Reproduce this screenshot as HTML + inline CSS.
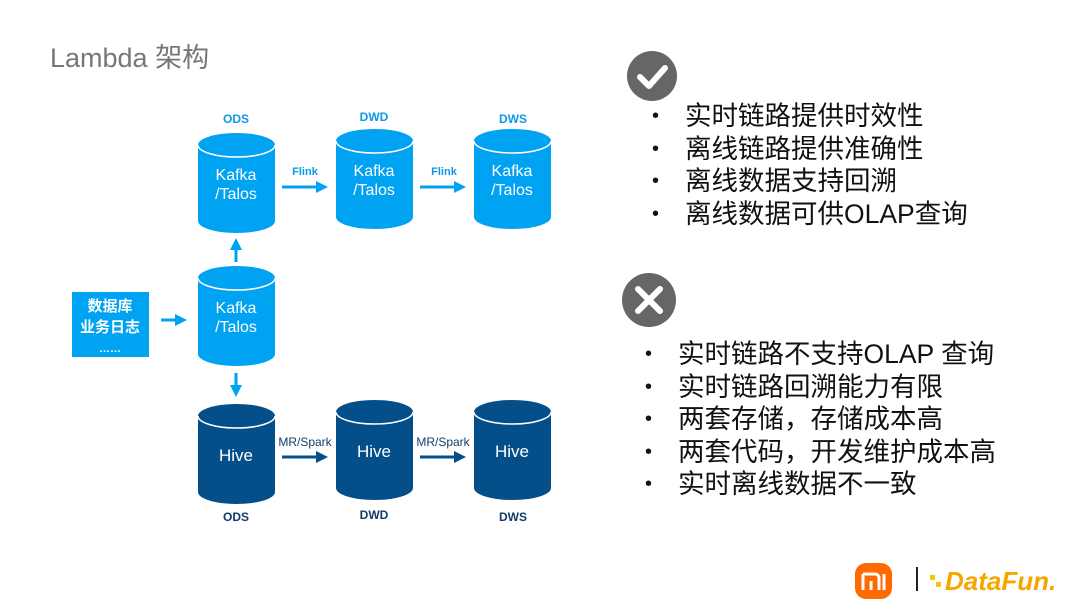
<!DOCTYPE html>
<html><head><meta charset="utf-8"><style>
body{margin:0;width:1080px;height:608px;background:#fff;overflow:hidden;font-family:"Liberation Sans","Noto Sans CJK SC",sans-serif;position:relative}
.t{position:absolute;left:50px;top:36px;font-size:27px;color:#777}
ul{position:absolute;margin:0;padding:0;list-style:none;font-size:26.5px;color:#111}
li{position:relative;height:32.5px;line-height:32.5px;white-space:nowrap}
li:before{content:"•";position:absolute;left:-33px;font-size:20px}
</style></head><body>
<div class="t">Lambda 架构</div>
<svg width="1080" height="608" style="position:absolute;left:0;top:0" font-family="Liberation Sans,Noto Sans CJK SC,sans-serif">
<defs>
<g id="c"><path d="M0,12 A38.5,12 0 0 1 77,12 V88 A38.5,12 0 0 1 0,88 Z"/><path d="M0,12 A38.5,12 0 0 0 77,12" fill="none" stroke="#fff" stroke-width="1.5"/></g>
<marker id="a" markerWidth="4" markerHeight="4" refX="2" refY="2" orient="auto"><path d="M0,0 L4,2 L0,4 Z" fill="context-stroke"/></marker>
</defs>
<g fill="#00a2f2">
<use href="#c" x="198" y="133"/><use href="#c" x="336" y="129"/><use href="#c" x="474" y="129"/><use href="#c" x="198" y="266"/>
<rect x="72" y="292" width="77" height="65"/>
</g>
<g fill="#044f8a">
<use href="#c" x="198" y="404"/><use href="#c" x="336" y="400"/><use href="#c" x="474" y="400"/>
</g>
<g fill="#fff" font-size="16" text-anchor="middle">
<text x="236" y="180">Kafka</text><text x="236" y="199">/Talos</text>
<text x="374" y="176">Kafka</text><text x="374" y="195">/Talos</text>
<text x="512" y="176">Kafka</text><text x="512" y="195">/Talos</text>
<text x="236" y="313">Kafka</text><text x="236" y="332">/Talos</text>
<text x="236" y="461" font-size="17">Hive</text><text x="374" y="457" font-size="17">Hive</text><text x="512" y="457" font-size="17">Hive</text>
<text x="110" y="311" font-size="15" font-weight="bold">数据库</text><text x="110" y="332" font-size="15" font-weight="bold">业务日志</text><text x="110" y="352" font-size="11" font-weight="bold">……</text>
</g>
<g font-size="12" font-weight="bold" text-anchor="middle" fill="#0a9ae8"><text x="236" y="123">ODS</text><text x="374" y="121">DWD</text><text x="513" y="123">DWS</text>
<text x="305" y="175" font-size="11">Flink</text><text x="444" y="175" font-size="11">Flink</text></g>
<g font-size="12" font-weight="bold" text-anchor="middle" fill="#123d6a"><text x="236" y="521">ODS</text><text x="374" y="519">DWD</text><text x="513" y="521">DWS</text>
<text x="305" y="446" font-size="12" font-weight="normal" fill="#123d6a">MR/Spark</text><text x="443" y="446" font-size="12" font-weight="normal">MR/Spark</text></g>
<g stroke="#00a2f2" stroke-width="3" marker-end="url(#a)">
<line x1="282" y1="187" x2="322" y2="187"/><line x1="420" y1="187" x2="460" y2="187"/>
<line x1="161" y1="320" x2="181" y2="320"/>
<line x1="236" y1="262" x2="236" y2="244"/><line x1="236" y1="373" x2="236" y2="391"/>
</g>
<g stroke="#044f8a" stroke-width="3" marker-end="url(#a)">
<line x1="282" y1="457" x2="322" y2="457"/><line x1="420" y1="457" x2="460" y2="457"/>
</g>
<circle cx="652" cy="76" r="25" fill="#666"/>
<path d="M640,77 L649,86 L665,68" stroke="#fff" stroke-width="6" fill="none" stroke-linecap="round" stroke-linejoin="round"/>
<circle cx="649" cy="300" r="27" fill="#666"/>
<path d="M638,289 L660,311 M660,289 L638,311" stroke="#fff" stroke-width="6" stroke-linecap="round"/>
<rect x="855" y="563" width="37" height="36" rx="11" fill="#ff6a00"/>
<path d="M863,574 h12 a4,4 0 0 1 4,4 v12 M863,574 v16 M871,581 v9 M884,574 v16" stroke="#fff" stroke-width="3" fill="none"/>
<line x1="917" y1="567" x2="917" y2="591" stroke="#222" stroke-width="2"/>
<text x="945" y="590" font-size="26" font-weight="bold" font-style="italic" fill="#f7a600">DataFun.</text>
<rect x="930" y="575" width="5" height="5" fill="#f7c600"/><rect x="936" y="582" width="5" height="5" fill="#f7c600"/>
</svg>
<ul style="left:685px;top:100px"><li>实时链路提供时效性</li><li>离线链路提供准确性</li><li>离线数据支持回溯</li><li>离线数据可供OLAP查询</li></ul>
<ul style="left:678px;top:338px"><li>实时链路不支持OLAP 查询</li><li>实时链路回溯能力有限</li><li>两套存储，存储成本高</li><li>两套代码，开发维护成本高</li><li>实时离线数据不一致</li></ul>
</body></html>
